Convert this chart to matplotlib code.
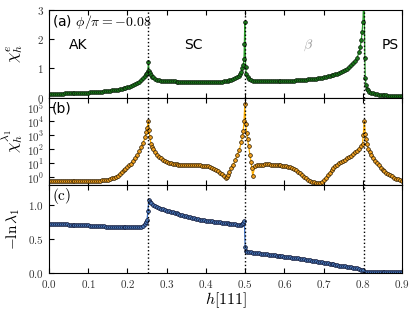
import numpy as np
import matplotlib
matplotlib.use("Agg")
import matplotlib.pyplot as plt
from matplotlib.ticker import FixedLocator, FuncFormatter, NullLocator

plt.rcParams['mathtext.fontset'] = 'cm'
plt.rcParams['font.family'] = ['DejaVu Sans']

# ---------------- data ----------------
transitions = [0.2535, 0.5, 0.8035]

# panel (a): (h, chi_h^e)
pts_a = [
    (0.000, 0.130), (0.005, 0.131), (0.010, 0.133), (0.015, 0.134), (0.020, 0.136),
    (0.025, 0.138), (0.030, 0.140), (0.035, 0.142), (0.040, 0.144), (0.045, 0.146),
    (0.050, 0.148), (0.055, 0.150), (0.060, 0.152), (0.065, 0.155), (0.070, 0.157),
    (0.075, 0.160), (0.080, 0.162), (0.085, 0.165), (0.090, 0.168), (0.095, 0.171),
    (0.100, 0.175), (0.105, 0.179), (0.110, 0.183), (0.115, 0.187), (0.120, 0.192),
    (0.125, 0.197), (0.130, 0.202), (0.135, 0.208), (0.140, 0.215), (0.145, 0.222),
    (0.150, 0.230), (0.155, 0.237), (0.160, 0.245), (0.165, 0.255), (0.170, 0.265),
    (0.175, 0.277), (0.180, 0.290), (0.185, 0.305), (0.190, 0.320), (0.195, 0.337),
    (0.200, 0.355), (0.205, 0.377), (0.210, 0.400), (0.215, 0.425), (0.220, 0.450),
    (0.225, 0.490), (0.230, 0.530), (0.235, 0.590), (0.240, 0.660), (0.245, 0.750),
    (0.248, 0.800), (0.250, 0.860), (0.252, 0.920), (0.2535, 1.220), (0.255, 0.900),
    (0.257, 0.830), (0.260, 0.770), (0.263, 0.720), (0.266, 0.690), (0.270, 0.650),
    (0.275, 0.620), (0.280, 0.600), (0.285, 0.585), (0.290, 0.575), (0.295, 0.570),
    (0.300, 0.565), (0.305, 0.562), (0.310, 0.560), (0.315, 0.557), (0.320, 0.555),
    (0.325, 0.552), (0.330, 0.550), (0.335, 0.547), (0.340, 0.545), (0.345, 0.542),
    (0.350, 0.540), (0.355, 0.538), (0.360, 0.535), (0.365, 0.535), (0.370, 0.535),
    (0.375, 0.532), (0.380, 0.530), (0.385, 0.530), (0.390, 0.530), (0.395, 0.530),
    (0.400, 0.530), (0.405, 0.530), (0.410, 0.530), (0.415, 0.532), (0.420, 0.535),
    (0.425, 0.537), (0.430, 0.540), (0.435, 0.545), (0.440, 0.550), (0.445, 0.557),
    (0.450, 0.565), (0.455, 0.577), (0.460, 0.590), (0.465, 0.610), (0.470, 0.630),
    (0.475, 0.660), (0.480, 0.700), (0.484, 0.750), (0.487, 0.800), (0.490, 0.880),
    (0.493, 1.000), (0.495, 1.100), (0.497, 1.320), (0.498, 1.840), (0.499, 2.580),
    (0.501, 1.050), (0.503, 0.800), (0.506, 0.700), (0.510, 0.640), (0.515, 0.600),
    (0.520, 0.580), (0.525, 0.570), (0.530, 0.565), (0.535, 0.560), (0.540, 0.560),
    (0.545, 0.557), (0.550, 0.555), (0.555, 0.555), (0.560, 0.555), (0.565, 0.557),
    (0.570, 0.560), (0.575, 0.560), (0.580, 0.560), (0.585, 0.562), (0.590, 0.565),
    (0.595, 0.567), (0.600, 0.570), (0.605, 0.572), (0.610, 0.575), (0.615, 0.577),
    (0.620, 0.580), (0.625, 0.585), (0.630, 0.590), (0.635, 0.595), (0.640, 0.600),
    (0.645, 0.605), (0.650, 0.610), (0.655, 0.617), (0.660, 0.625), (0.665, 0.632),
    (0.670, 0.640), (0.675, 0.647), (0.680, 0.655), (0.685, 0.665), (0.690, 0.675),
    (0.695, 0.687), (0.700, 0.700), (0.705, 0.715), (0.710, 0.730), (0.715, 0.745),
    (0.720, 0.760), (0.725, 0.780), (0.730, 0.800), (0.735, 0.825), (0.740, 0.850),
    (0.745, 0.880), (0.750, 0.910), (0.755, 0.950), (0.760, 0.990), (0.765, 1.040),
    (0.770, 1.100), (0.775, 1.170), (0.780, 1.250), (0.785, 1.360), (0.790, 1.550),
    (0.793, 1.720), (0.796, 1.980), (0.798, 2.250), (0.800, 2.600), (0.803, 3.500),
    (0.805, 1.370), (0.806, 0.670), (0.808, 0.420), (0.810, 0.300), (0.813, 0.250),
    (0.816, 0.210), (0.820, 0.170), (0.825, 0.150), (0.830, 0.130), (0.835, 0.115),
    (0.840, 0.100), (0.845, 0.092), (0.850, 0.085), (0.855, 0.080), (0.860, 0.075),
    (0.865, 0.072), (0.870, 0.070), (0.875, 0.067), (0.880, 0.065), (0.885, 0.062),
    (0.890, 0.060), (0.895, 0.057), (0.900, 0.055),
]

# panel (b): (h, chi_h^lambda1)
pts_b = [
    (0.000, 0.55), (0.005, 0.55), (0.010, 0.55), (0.015, 0.55), (0.020, 0.55),
    (0.025, 0.55), (0.030, 0.55), (0.035, 0.55), (0.040, 0.55), (0.045, 0.55),
    (0.050, 0.55), (0.055, 0.55), (0.060, 0.55), (0.065, 0.55), (0.070, 0.55),
    (0.075, 0.55), (0.080, 0.55), (0.085, 0.55), (0.090, 0.55), (0.095, 0.55),
    (0.100, 0.55), (0.105, 0.55), (0.110, 0.55), (0.115, 0.55), (0.120, 0.56),
    (0.125, 0.57), (0.130, 0.58), (0.135, 0.60), (0.140, 0.62), (0.145, 0.66),
    (0.150, 0.70), (0.155, 0.77), (0.160, 0.85), (0.165, 0.96), (0.170, 1.10),
    (0.175, 1.35), (0.180, 1.8), (0.185, 2.6), (0.190, 3.3), (0.195, 4.1),
    (0.200, 5.2), (0.205, 7.0), (0.210, 9.5), (0.215, 14), (0.220, 24),
    (0.225, 40), (0.230, 70), (0.235, 140), (0.240, 280), (0.245, 700),
    (0.248, 1600), (0.250, 3200), (0.2535, 9300), (0.255, 2200), (0.257, 700),
    (0.260, 250), (0.263, 150), (0.266, 100), (0.270, 63), (0.275, 42),
    (0.280, 28), (0.285, 22), (0.290, 17.8), (0.295, 14.5), (0.300, 12.6),
    (0.305, 11.2), (0.310, 10.0), (0.315, 9.3), (0.320, 8.7), (0.325, 8.2),
    (0.330, 7.9), (0.335, 7.7), (0.340, 7.6), (0.345, 7.5), (0.350, 7.4),
    (0.355, 7.3), (0.360, 7.2), (0.365, 7.2), (0.370, 7.2), (0.375, 7.1),
    (0.380, 7.1), (0.385, 7.0), (0.390, 6.9), (0.395, 6.8), (0.400, 6.6),
    (0.405, 6.2), (0.410, 5.6), (0.415, 5.0), (0.420, 4.2), (0.425, 3.5),
    (0.430, 2.8), (0.435, 2.1), (0.440, 1.6), (0.445, 1.2), (0.450, 0.9),
    (0.453, 1.0), (0.456, 1.4), (0.460, 2.5), (0.465, 4.5), (0.470, 8.0),
    (0.475, 17.8), (0.480, 40), (0.485, 90), (0.490, 316), (0.493, 800),
    (0.495, 2000), (0.497, 9300), (0.499, 1.6e5), (0.501, 5800), (0.504, 1500),
    (0.506, 525), (0.509, 160), (0.512, 40), (0.515, 12.6), (0.517, 4.8),
    (0.519, 1.3), (0.525, 6.2), (0.530, 7.2), (0.535, 7.6), (0.540, 7.9),
    (0.545, 8.1), (0.550, 8.3), (0.555, 8.3), (0.560, 8.3), (0.565, 8.1),
    (0.570, 7.9), (0.575, 7.8), (0.580, 7.6), (0.585, 7.4), (0.590, 7.1),
    (0.595, 6.9), (0.600, 6.6), (0.605, 6.2), (0.610, 5.8), (0.615, 5.2),
    (0.620, 4.6), (0.625, 3.9), (0.630, 3.2), (0.635, 2.6), (0.640, 2.0),
    (0.645, 1.5), (0.650, 1.12), (0.655, 0.85), (0.660, 0.66), (0.665, 0.55),
    (0.670, 0.48), (0.675, 0.44), (0.680, 0.42), (0.685, 0.41), (0.690, 0.42),
    (0.695, 0.48), (0.700, 0.63), (0.705, 0.9), (0.710, 1.4), (0.715, 2.1),
    (0.720, 3.2), (0.725, 4.5), (0.730, 6.3), (0.735, 8.0), (0.740, 10),
    (0.745, 12), (0.750, 14), (0.755, 17.8), (0.760, 22), (0.765, 28),
    (0.770, 35), (0.775, 45), (0.780, 63), (0.785, 80), (0.790, 112),
    (0.795, 178), (0.799, 250), (0.801, 1000), (0.8035, 1.07e4), (0.806, 1260),
    (0.808, 500), (0.810, 250), (0.814, 100), (0.817, 60), (0.820, 40),
    (0.825, 24), (0.830, 14), (0.835, 10), (0.840, 7.1), (0.845, 5.0),
    (0.850, 3.5), (0.855, 2.8), (0.860, 2.2), (0.865, 1.8), (0.870, 1.4),
    (0.875, 1.15), (0.880, 0.95), (0.885, 0.82), (0.890, 0.71), (0.895, 0.62),
    (0.900, 0.56),
]

# panel (c): (h, -ln lambda1)
pts_c = [
    (0.000, 0.720), (0.005, 0.719), (0.010, 0.717), (0.015, 0.716), (0.020, 0.715),
    (0.025, 0.714), (0.030, 0.712), (0.035, 0.711), (0.040, 0.710), (0.045, 0.709),
    (0.050, 0.707), (0.055, 0.706), (0.060, 0.705), (0.065, 0.704), (0.070, 0.702),
    (0.075, 0.701), (0.080, 0.700), (0.085, 0.699), (0.090, 0.697), (0.095, 0.696),
    (0.100, 0.695), (0.105, 0.694), (0.110, 0.692), (0.115, 0.691), (0.120, 0.690),
    (0.125, 0.688), (0.130, 0.685), (0.135, 0.683), (0.140, 0.680), (0.145, 0.679),
    (0.150, 0.677), (0.155, 0.676), (0.160, 0.675), (0.165, 0.674), (0.170, 0.672),
    (0.175, 0.671), (0.180, 0.670), (0.185, 0.669), (0.190, 0.667), (0.195, 0.666),
    (0.200, 0.665), (0.205, 0.665), (0.210, 0.665), (0.215, 0.665), (0.220, 0.665),
    (0.225, 0.667), (0.230, 0.670), (0.235, 0.677), (0.240, 0.690), (0.245, 0.720),
    (0.248, 0.750), (0.250, 0.780), (0.252, 0.910), (0.2545, 1.060), (0.257, 1.040),
    (0.260, 1.020), (0.265, 1.000), (0.270, 0.980), (0.275, 0.965), (0.280, 0.950),
    (0.285, 0.940), (0.290, 0.930), (0.295, 0.920), (0.300, 0.910), (0.305, 0.900),
    (0.310, 0.895), (0.315, 0.887), (0.320, 0.880), (0.325, 0.870), (0.330, 0.862),
    (0.335, 0.853), (0.340, 0.845), (0.345, 0.837), (0.350, 0.830), (0.355, 0.822),
    (0.360, 0.815), (0.365, 0.807), (0.370, 0.800), (0.375, 0.792), (0.380, 0.785),
    (0.385, 0.780), (0.390, 0.775), (0.395, 0.770), (0.400, 0.765), (0.405, 0.760),
    (0.410, 0.757), (0.415, 0.753), (0.420, 0.750), (0.425, 0.746), (0.430, 0.742),
    (0.435, 0.738), (0.440, 0.735), (0.445, 0.731), (0.450, 0.728), (0.455, 0.724),
    (0.460, 0.720), (0.465, 0.716), (0.470, 0.712), (0.475, 0.709), (0.480, 0.705),
    (0.485, 0.703), (0.490, 0.700), (0.493, 0.710), (0.495, 0.730), (0.498, 0.760),
    (0.500, 0.380), (0.502, 0.320), (0.505, 0.310), (0.510, 0.305), (0.515, 0.302),
    (0.520, 0.300), (0.525, 0.296), (0.530, 0.292), (0.535, 0.289), (0.540, 0.285),
    (0.545, 0.281), (0.550, 0.277), (0.555, 0.274), (0.560, 0.270), (0.565, 0.266),
    (0.570, 0.262), (0.575, 0.259), (0.580, 0.255), (0.585, 0.251), (0.590, 0.247),
    (0.595, 0.244), (0.600, 0.240), (0.605, 0.236), (0.610, 0.232), (0.615, 0.229),
    (0.620, 0.225), (0.625, 0.221), (0.630, 0.217), (0.635, 0.214), (0.640, 0.210),
    (0.645, 0.205), (0.650, 0.200), (0.655, 0.195), (0.660, 0.190), (0.665, 0.185),
    (0.670, 0.180), (0.675, 0.175), (0.680, 0.170), (0.685, 0.165), (0.690, 0.160),
    (0.695, 0.155), (0.700, 0.150), (0.705, 0.145), (0.710, 0.140), (0.715, 0.135),
    (0.720, 0.130), (0.725, 0.125), (0.730, 0.120), (0.735, 0.115), (0.740, 0.110),
    (0.745, 0.105), (0.750, 0.100), (0.755, 0.096), (0.760, 0.090), (0.765, 0.086),
    (0.770, 0.082), (0.775, 0.078), (0.780, 0.075), (0.785, 0.068), (0.790, 0.060),
    (0.795, 0.050), (0.800, 0.040), (0.805, 0.020), (0.810, 0.015), (0.815, 0.012),
    (0.820, 0.010), (0.825, 0.010), (0.830, 0.010), (0.835, 0.010), (0.840, 0.010),
    (0.845, 0.010), (0.850, 0.010), (0.855, 0.010), (0.860, 0.010), (0.865, 0.010),
    (0.870, 0.010), (0.875, 0.010), (0.880, 0.010), (0.885, 0.010), (0.890, 0.010),
    (0.895, 0.010), (0.900, 0.010),
]

h_a, chi_e = zip(*pts_a)
h_b, chi_l = zip(*pts_b)
h_c, lnl = zip(*pts_c)

xticks = [0.0, 0.1, 0.2, 0.3, 0.4, 0.5, 0.6, 0.7, 0.8, 0.9]
phase_labels = ['AK', 'SC', r'$\beta$', 'PS']
phase_x = [0.075, 0.368, 0.66, 0.87]

# ---------------- figure ----------------
fig = plt.figure(figsize=(4.15, 3.11), dpi=100)
gs = fig.add_gridspec(3, 1, left=0.118, right=0.969, top=0.968, bottom=0.122, hspace=0)
axa = fig.add_subplot(gs[0])
axb = fig.add_subplot(gs[1], sharex=axa)
axc = fig.add_subplot(gs[2], sharex=axa)

mfmt = FuncFormatter(lambda v, p: r'$%.1f$' % v)
ifmt = FuncFormatter(lambda v, p: r'$%d$' % round(v))
lfmt = FuncFormatter(lambda v, p: r'$10^{%d}$' % round(np.log10(v)))

style = dict(marker='o', ms=2.7, mew=0.5, lw=0.9)
axa.plot(h_a, chi_e, color='#2ca02c', mfc='#1a7a1a', mec='#0a1a0a', **style)
axb.plot(h_b, chi_l, color='#ffb000', mfc='#f0a020', mec='#2a1a00', **style)
axc.plot(h_c, lnl, color='#3a6fc4', mfc='#4a78b8', mec='#0a1030', **style)

for ax in (axa, axb, axc):
    for t in transitions:
        ax.axvline(t, color='black', ls=':', lw=1.0, zorder=3)
    ax.set_xlim(0, 0.9)
    ax.xaxis.set_major_locator(FixedLocator(xticks))
    ax.tick_params(direction='in', top=True, right=False, labelsize=8, length=3.5,
                   labelcolor='#333333')
    ax.xaxis.set_major_formatter(mfmt)

axa.set_ylim(0, 3)
axa.yaxis.set_major_locator(FixedLocator([0, 1, 2, 3]))
axa.yaxis.set_major_formatter(ifmt)
axa.set_ylabel(r'$\chi_h^e$', fontsize=12)
axa.yaxis.set_label_coords(-0.068, 0.5)
axa.text(0.008, 2.58, r'(a) $\phi/\pi = -0.08$', fontsize=10, va='center')
for lbl, x in zip(phase_labels, phase_x):
    axa.text(x, 1.8, lbl, fontsize=10, ha='center', va='center',
             color='#999999' if lbl.startswith('$') else 'black')

axb.set_yscale('log')
axb.set_ylim(0.27, 4.6e5)
axb.yaxis.set_major_locator(FixedLocator([1, 10, 100, 1e3, 1e4, 1e5]))
axb.yaxis.set_minor_locator(NullLocator())
axb.yaxis.set_major_formatter(lfmt)
axb.set_ylabel(r'$\chi_h^{\lambda_1}$', fontsize=12)
axb.yaxis.set_label_coords(-0.068, 0.5)
axb.text(0.008, 7.6e4, '(b)', fontsize=10, va='center')

axc.set_ylim(0, 1.28)
axc.yaxis.set_major_locator(FixedLocator([0.0, 0.5, 1.0]))
axc.yaxis.set_major_formatter(mfmt)
axc.set_ylabel(r'$-\ln\lambda_1$', fontsize=11)
axc.yaxis.set_label_coords(-0.076, 0.5)
axc.text(0.008, 1.12, r'$\mathrm{(c)}$', fontsize=11, va='center')
axc.set_xlabel(r'$h[111]$', fontsize=11.5, labelpad=0)

plt.setp(axa.get_xticklabels(), visible=False)
plt.setp(axb.get_xticklabels(), visible=False)

fig.savefig('out.png', dpi=100)
